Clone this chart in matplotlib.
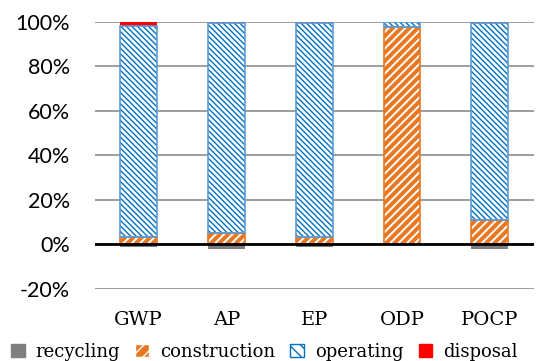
import matplotlib
matplotlib.use("Agg")
import matplotlib.pyplot as plt
import numpy as np
from matplotlib.patches import Patch

categories = ["GWP", "AP", "EP", "ODP", "POCP"]
recycling = [-1.3, -2.0, -1.2, 0.0, -2.0]
construction = [3.3, 5.0, 3.3, 97.5, 11.0]
operating = [94.7, 94.5, 96.2, 2.2, 88.3]
disposal = [2.0, 0.5, 0.5, 0.3, 0.7]
yticks = [-20, 0, 20, 40, 60, 80, 100]

fig = plt.figure(figsize=(5.45, 3.61), dpi=100)
ax = fig.add_axes([0.174, 0.2, 0.805, 0.74])

x = np.arange(len(categories))
w = 0.42
orange = "#E87722"
blue_edge = "#5B9BD5"
blue_hatch = "#0070C0"

ax.bar(x, recycling, w, color="#7F7F7F", linewidth=0, zorder=3)
plt.rcParams['hatch.linewidth'] = 1.4
ax.bar(x, construction, w, facecolor=orange, edgecolor="white", hatch="////", linewidth=0, zorder=3)
ax.bar(x, construction, w, fill=False, edgecolor=orange, linewidth=1.2, zorder=4)
plt.rcParams['hatch.linewidth'] = 1.0
ax.bar(x, operating, w, bottom=construction, facecolor="white", edgecolor=blue_hatch, hatch="\\" * 6, linewidth=0, zorder=3)
ax.bar(x, operating, w, bottom=construction, fill=False, edgecolor=blue_edge, linewidth=1.2, zorder=4)
bot = [c + o for c, o in zip(construction, operating)]
ax.bar(x, disposal, w, bottom=bot, color="#FF0000", linewidth=0, zorder=3)

ax.set_ylim(-20, 100)
ax.set_xlim(-0.5, len(categories) - 0.5)
ax.set_yticks(yticks)
ax.set_yticklabels([f"{t}%" for t in yticks], family="Lato", fontsize=15.5)
ax.tick_params(axis='y', length=0, pad=18)
ax.tick_params(axis='x', length=0, pad=16)
ax.set_xticks(x)
ax.set_xticklabels(categories, family="DejaVu Serif", fontsize=14)
ax.yaxis.grid(True, color="#8C8C8C", linewidth=1.2, zorder=0)
ax.axhline(0, color="black", linewidth=2, zorder=5)
for s in ax.spines.values():
    s.set_visible(False)

handles = [
    Patch(facecolor="#7F7F7F", edgecolor="#7F7F7F", label="recycling"),
    Patch(facecolor=orange, edgecolor="white", hatch="///", label="construction"),
    Patch(facecolor="white", edgecolor=blue_hatch, hatch="\\\\\\", label="operating"),
    Patch(facecolor="#FF0000", edgecolor="#FF0000", label="disposal"),
]
leg = fig.legend(handles=handles, loc="lower center", bbox_to_anchor=(0.485, -0.045), ncol=4,
                 frameon=False, prop={"family": "DejaVu Serif", "size": 13},
                 handlelength=0.75, handleheight=0.75, handletextpad=0.6, columnspacing=0.85)

fig.savefig("out.png", dpi=100)
